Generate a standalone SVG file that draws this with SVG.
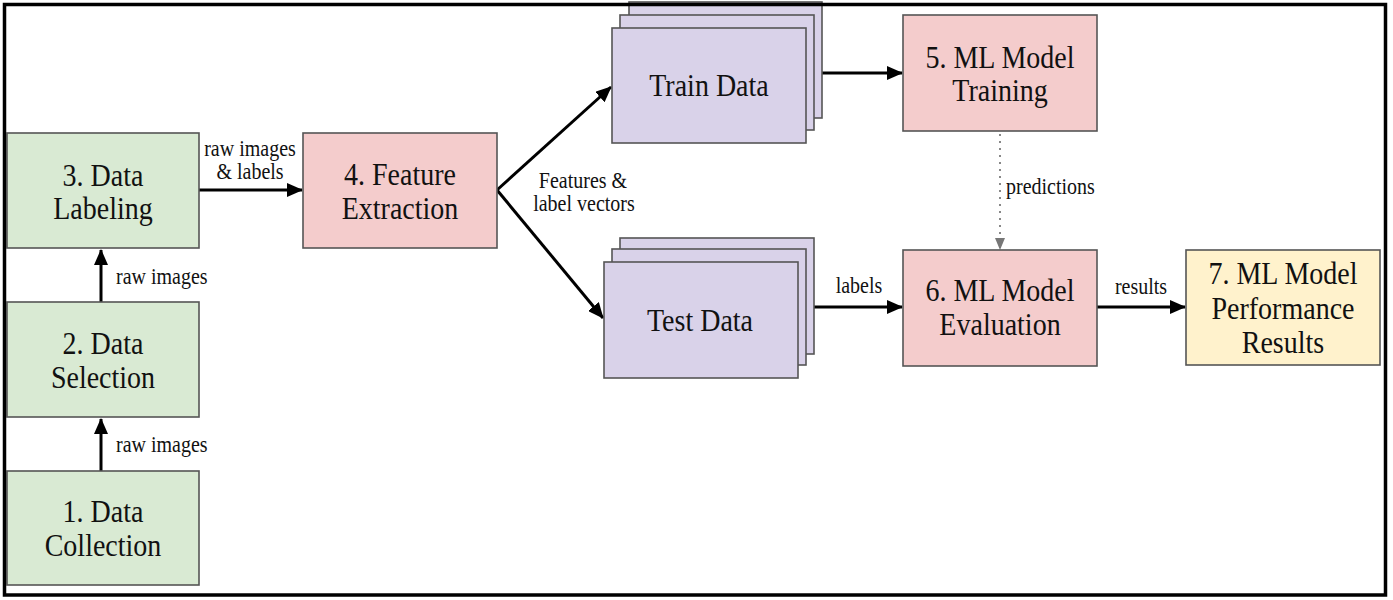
<svg xmlns="http://www.w3.org/2000/svg" width="1393" height="600" viewBox="0 0 1393 600">
<style>
.node{stroke:#555;stroke-width:1.6}
.green{fill:#d9ead3}
.pink{fill:#f4cccc}
.purple{fill:#d9d2e9}
.yellow{fill:#fff2cc}
.nt,.lt{font-family:"Liberation Serif","Times New Roman",serif;fill:#111;transform-box:fill-box;transform-origin:center;transform:scaleY(1.14)}
.nt{font-size:28px;text-anchor:middle}
.lt{font-size:20px}
.edge{stroke:#000;stroke-width:3;fill:none}
.dot{stroke:#888;stroke-width:2;fill:none;stroke-dasharray:2 5}
</style>
<defs>
<marker id="ah" markerWidth="16" markerHeight="14" refX="15" refY="7" orient="auto" markerUnits="userSpaceOnUse">
<path d="M0,0 L16,7 L0,14 Z" fill="#000"/>
</marker>
<marker id="ahg" markerWidth="12" markerHeight="12" refX="11" refY="5" orient="auto" markerUnits="userSpaceOnUse">
<path d="M0,0 L12,5 L0,10 Z" fill="#777"/>
</marker>
</defs>
<rect width="1393" height="600" fill="#fff"/>
<g id="connectors">
<line class="edge" x1="101" y1="471" x2="101" y2="419" marker-end="url(#ah)"/>
<line class="edge" x1="101" y1="302" x2="101" y2="250" marker-end="url(#ah)"/>
<line class="edge" x1="199" y1="190" x2="302" y2="190" marker-end="url(#ah)"/>
<line class="edge" x1="497" y1="190" x2="611" y2="87" marker-end="url(#ah)"/>
<line class="edge" x1="497" y1="190" x2="603" y2="318" marker-end="url(#ah)"/>
<line class="edge" x1="806" y1="73" x2="902" y2="73" marker-end="url(#ah)"/>
<line class="edge" x1="798" y1="307" x2="902" y2="307" marker-end="url(#ah)"/>
<line class="edge" x1="1097" y1="307" x2="1185" y2="307" marker-end="url(#ah)"/>
<line class="dot" x1="1000" y1="134" x2="1000" y2="249" marker-end="url(#ahg)"/>
<text class="lt" x="116" y="451">raw images</text>
<text class="lt" x="116" y="283">raw images</text>
<text class="lt" x="250" y="155" text-anchor="middle">raw images</text>
<text class="lt" x="250" y="178" text-anchor="middle">&amp; labels</text>
<text class="lt" x="583" y="187" text-anchor="middle">Features &amp;</text>
<text class="lt" x="584" y="210" text-anchor="middle">label vectors</text>
<text class="lt" x="859" y="292" text-anchor="middle">labels</text>
<text class="lt" x="1006" y="193">predictions</text>
<text class="lt" x="1141" y="293" text-anchor="middle">results</text>
</g>
<g id="node1">
<rect class="node green" x="7" y="471" width="192" height="114"/>
<text class="nt" x="103" y="521">1. Data</text>
<text class="nt" x="103" y="555">Collection</text>
</g>
<g id="node2">
<rect class="node green" x="7" y="302" width="192" height="115"/>
<text class="nt" x="103" y="353">2. Data</text>
<text class="nt" x="103" y="387">Selection</text>
</g>
<g id="node3">
<rect class="node green" x="7" y="133" width="192" height="115"/>
<text class="nt" x="103" y="185">3. Data</text>
<text class="nt" x="103" y="218">Labeling</text>
</g>
<g id="node4">
<rect class="node pink" x="303" y="133" width="194" height="115"/>
<text class="nt" x="400" y="184">4. Feature</text>
<text class="nt" x="400" y="218">Extraction</text>
</g>
<g id="train-data">
<rect class="node purple" x="629" y="2" width="193" height="116"/>
<rect class="node purple" x="620" y="15" width="194" height="115"/>
<rect class="node purple" x="612" y="28" width="194" height="115"/>
<text class="nt" x="709" y="95">Train Data</text>
</g>
<g id="test-data">
<rect class="node purple" x="620" y="238" width="194" height="116"/>
<rect class="node purple" x="612" y="249" width="194" height="116"/>
<rect class="node purple" x="604" y="262" width="194" height="116"/>
<text class="nt" x="700" y="330">Test Data</text>
</g>
<g id="node5">
<rect class="node pink" x="903" y="15" width="194" height="116"/>
<text class="nt" x="1000" y="67">5. ML Model</text>
<text class="nt" x="1000" y="100">Training</text>
</g>
<g id="node6">
<rect class="node pink" x="903" y="250" width="194" height="116"/>
<text class="nt" x="1000" y="300">6. ML Model</text>
<text class="nt" x="1000" y="334">Evaluation</text>
</g>
<g id="node7">
<rect class="node yellow" x="1186" y="250" width="194" height="115"/>
<text class="nt" x="1283" y="283">7. ML Model</text>
<text class="nt" x="1283" y="318">Performance</text>
<text class="nt" x="1283" y="352">Results</text>
</g>
<rect id="frame" x="4.5" y="4.5" width="1381" height="590.5" fill="none" stroke="#000" stroke-width="3.5"/>
</svg>
